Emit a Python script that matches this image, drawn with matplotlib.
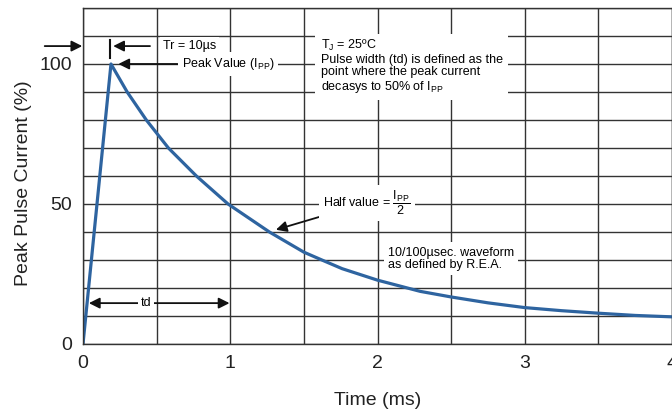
import matplotlib

matplotlib.use("Agg")
import matplotlib.pyplot as plt
from matplotlib.ticker import MultipleLocator

# values (time in ms, current in % of Ipp)
time_ms = [0, 0.19, 0.30, 0.43, 0.58, 0.77, 0.985, 1.266, 1.50, 1.64, 1.76,
           2.0, 2.29, 2.5, 2.75, 3.0, 3.25, 3.5, 3.75, 4.0]
current_pct = [0, 100, 90, 80, 70, 60, 50, 40, 32.8, 29.6, 26.9,
               22.8, 18.8, 16.8, 14.7, 13.0, 11.9, 11.0, 10.2, 9.7]

x_ticks = [0, 1, 2, 3, 4]
y_ticks = [0, 50, 100]

plt.rcParams.update({
    "font.family": ["Liberation Sans", "DejaVu Sans"],
    "mathtext.fontset": "custom",
    "mathtext.rm": "Liberation Sans",
    "mathtext.it": "Liberation Sans",
    "mathtext.bf": "Liberation Sans:bold",
})

GRID = "#333333"
BLUE = "#2e64a0"
ANN = 9

fig = plt.figure(figsize=(6.72, 4.13), dpi=100)
ax = fig.add_axes([83 / 672, 1 - 344 / 413, 589 / 672, 336 / 413])

ax.plot(time_ms, current_pct, color=BLUE, linewidth=2.3, solid_joinstyle="round", zorder=2)

ax.set_xlim(0, 4)
ax.set_ylim(0, 120)
ax.set_xticks(x_ticks)
ax.set_yticks(y_ticks)
ax.xaxis.set_minor_locator(MultipleLocator(0.5))
ax.yaxis.set_minor_locator(MultipleLocator(10))
ax.grid(which="both", color=GRID, linewidth=1.0, zorder=0)
ax.set_axisbelow(True)
ax.tick_params(which="both", length=0, labelsize=14, colors="#222222")
ax.tick_params(axis="x", pad=8)
ax.tick_params(axis="y", pad=8)
for s in ax.spines.values():
    s.set_color(GRID)
    s.set_linewidth(1.0)

ax.set_xlabel("Time (ms)", fontsize=14, labelpad=14, color="#222222")
ax.set_ylabel("Peak Pulse Current (%)", fontsize=14, color="#222222")
ax.yaxis.set_label_coords(-0.086, 0.479)

box = dict(facecolor="white", edgecolor="none", pad=2)
arrow = dict(arrowstyle="-|>", color="#111111", linewidth=1.3, mutation_scale=16,
             shrinkA=0, shrinkB=0)

# Tr = 10us marker
ax.annotate("", xy=(-0.005, 106.4), xytext=(-0.26, 106.4), arrowprops=arrow,
            annotation_clip=False)
ax.plot([0.183, 0.183], [102, 108.5], color="#111111", linewidth=1.5, clip_on=False)
ax.annotate("", xy=(0.205, 106.4), xytext=(0.455, 106.4), arrowprops=arrow)
ax.text(0.54, 106.4, "Tr = 10µs", fontsize=ANN, va="center", ha="left", bbox=box)

# peak value
ax.annotate(r"Peak Value ($\mathregular{I_{PP}}$)", xy=(0.24, 100), xytext=(0.67, 100),
            fontsize=ANN, va="center", ha="left", arrowprops=arrow,
            bbox=dict(facecolor="white", edgecolor="none", pad=3))

ax.text(1.615, 109.2,
        "T$\\mathregular{_J}$ = 25ºC\nPulse width (td) is defined as the\n"
        "point where the peak current\ndecasys to 50% of I$\\mathregular{_{PP}}$",
        fontsize=ANN, va="top", ha="left", linespacing=1.05,
        bbox=dict(facecolor="white", edgecolor="none", pad=4))

# half value
ax.annotate(r"Half value = $\dfrac{\mathregular{I_{PP}}}{\mathregular{2}}$",
            xy=(1.31, 40.8), xytext=(1.63, 50.4),
            fontsize=ANN, va="center", ha="left", arrowprops=arrow,
            bbox=dict(facecolor="white", edgecolor="none", pad=3))

ax.text(2.07, 30.5, "10/100µsec. waveform\nas defined by R.E.A.", fontsize=ANN,
        va="center", ha="left", linespacing=1.0,
        bbox=dict(facecolor="white", edgecolor="none", pad=3))

# td span
ax.annotate("", xy=(0.04, 14.6), xytext=(0.40, 14.6), arrowprops=arrow)
ax.annotate("", xy=(0.995, 14.6), xytext=(0.46, 14.6), arrowprops=arrow)
ax.text(0.43, 14.6, "td", fontsize=ANN, va="center", ha="center", bbox=box)

fig.savefig("out.png", dpi=100)
